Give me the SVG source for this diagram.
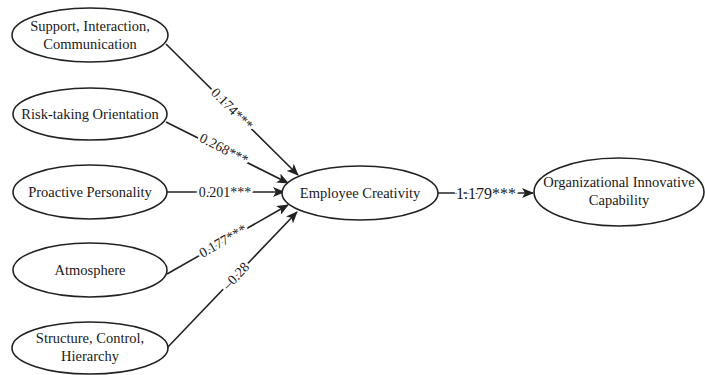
<svg xmlns="http://www.w3.org/2000/svg" width="705" height="375" viewBox="0 0 705 375" font-family="'Liberation Serif', 'Times New Roman', 'DejaVu Serif', serif">
<style>
.n{fill:#fff;stroke:#222;stroke-width:1.6}
.t{font-size:14.5px;fill:#1a1a1a;text-anchor:middle}
.e{stroke:#222;stroke-width:1.6;fill:none;marker-end:url(#ah)}
.l{font-size:14px;fill:#1a1a1a;text-anchor:middle;stroke:#fff;stroke-width:5;paint-order:stroke;dominant-baseline:central}
</style>
<defs>
<marker id="ah" markerWidth="12" markerHeight="10" refX="11" refY="5" orient="auto" markerUnits="userSpaceOnUse">
<path d="M0,0 L12,5 L0,10 L3,5 Z" fill="#222"/>
</marker>
</defs>
<rect width="705" height="375" fill="#fff"/>
<g id="connectors">
<line class="e" x1="166" y1="44" x2="298" y2="175"/>
<line class="e" x1="166" y1="122" x2="288" y2="183"/>
<line class="e" x1="167" y1="192" x2="284" y2="192"/>
<line class="e" x1="167" y1="274" x2="288" y2="205"/>
<line class="e" x1="166" y1="349" x2="297" y2="212"/>
<line class="e" x1="438" y1="193" x2="533" y2="193"/>
<text class="l" transform="translate(232,109) rotate(45)">0.174***</text>
<text class="l" transform="translate(224,149) rotate(27)">0.268***</text>
<text class="l" x="225" y="192">0.201***</text>
<text class="l" transform="translate(223,241) rotate(-30)">0.177***</text>
<text class="l" transform="translate(236,276) rotate(-46)">–0.28</text>
<text class="l" x="486" y="193" style="font-size:16px">1.179***</text>
</g>
<g id="support">
<ellipse class="n" cx="90" cy="35" rx="78" ry="27"/>
<text class="t" x="90" y="31">Support, Interaction,</text>
<text class="t" x="90" y="49">Communication</text>
</g>
<g id="risk">
<ellipse class="n" cx="90" cy="114" rx="77" ry="26"/>
<text class="t" x="90" y="119">Risk-taking Orientation</text>
</g>
<g id="proactive">
<ellipse class="n" cx="90" cy="192" rx="77" ry="27"/>
<text class="t" x="90" y="197">Proactive Personality</text>
</g>
<g id="atmosphere">
<ellipse class="n" cx="90" cy="270" rx="77" ry="27"/>
<text class="t" x="90" y="275">Atmosphere</text>
</g>
<g id="structure">
<ellipse class="n" cx="90" cy="348" rx="78" ry="26"/>
<text class="t" x="90" y="343">Structure, Control,</text>
<text class="t" x="90" y="361">Hierarchy</text>
</g>
<g id="creativity">
<ellipse class="n" cx="360" cy="193" rx="78" ry="27"/>
<text class="t" x="360" y="198">Employee Creativity</text>
</g>
<g id="oic">
<ellipse class="n" cx="619" cy="192" rx="85" ry="34"/>
<text class="t" x="619" y="187">Organizational Innovative</text>
<text class="t" x="619" y="205">Capability</text>
</g>
</svg>
